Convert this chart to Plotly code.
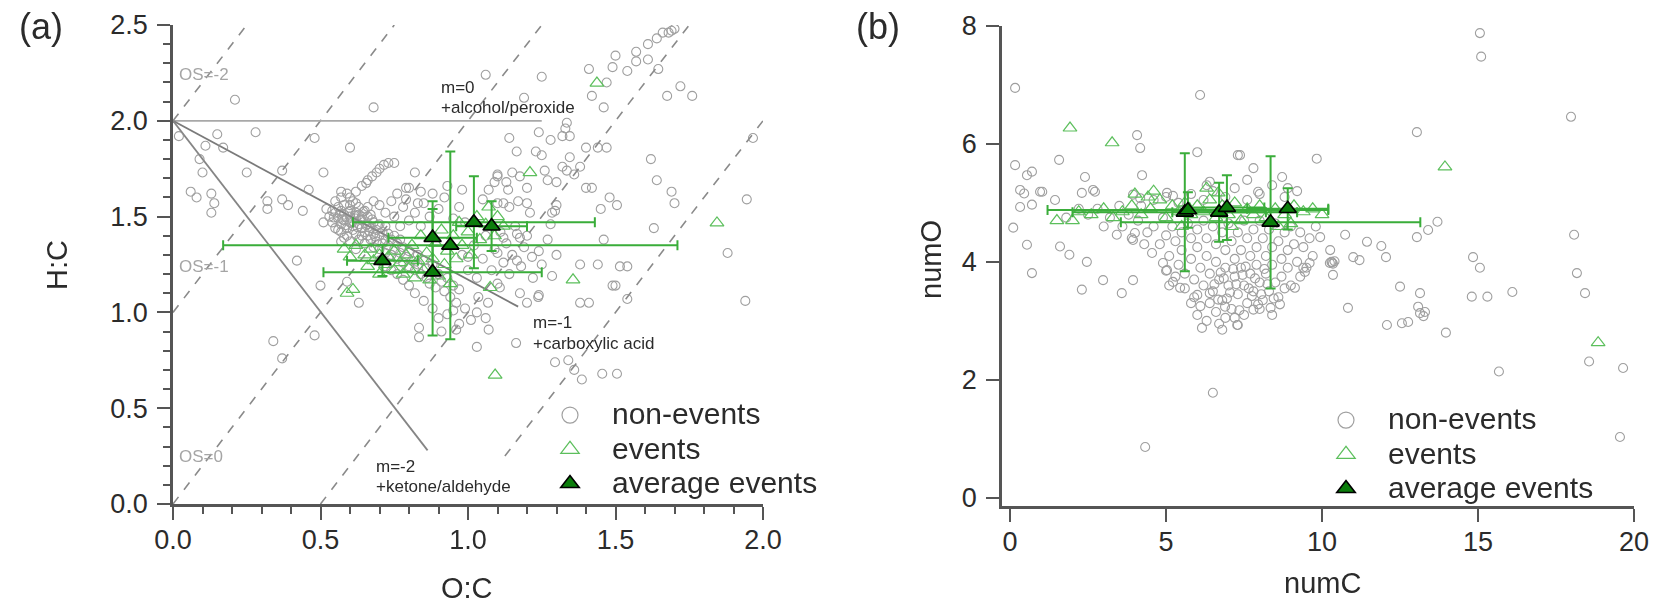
import plotly.graph_objects as go

FONT = "Liberation Sans, Arial, sans-serif"
W, H = 1655, 603

# ---------------- panel (a): Van Krevelen space ----------------
NONEV_A = [
    (0.21, 2.11), (0.68, 2.07), (0.15, 1.93), (0.28, 1.94), (0.11, 1.87), (0.17, 1.86), (0.09, 1.80),
    (0.60, 1.86), (0.48, 1.91), (0.25, 1.73), (0.10, 1.73), (0.37, 1.74), (0.51, 1.73), (0.06, 1.63),
    (0.08, 1.60), (0.13, 1.62), (0.13, 1.52), (0.14, 1.57), (0.32, 1.58), (0.32, 1.54), (0.37, 1.59),
    (0.39, 1.56), (0.44, 1.53), (0.46, 1.64), (0.82, 1.73), (0.79, 1.65), (0.42, 1.27), (0.50, 1.14),
    (0.59, 1.16), (0.63, 1.05), (0.34, 0.85), (0.37, 0.76), (0.48, 0.88), (0.02, 1.92), (0.75, 1.78),
    (0.60, 1.60), (0.57, 1.63),
    (0.62, 1.63), (0.64, 1.66), (0.655, 1.675), (0.66, 1.69), (0.675, 1.71), (0.69, 1.73), (0.70, 1.75),
    (0.715, 1.77), (0.73, 1.78),
    (1.06, 2.24), (1.25, 2.23), (1.41, 2.27), (1.50, 2.34), (1.49, 2.28), (1.57, 2.36), (1.57, 2.31),
    (1.54, 2.26), (1.61, 2.32), (1.61, 2.40), (1.64, 2.43), (1.66, 2.46), (1.68, 2.46), (1.69, 2.47),
    (1.70, 2.48), (1.645, 2.27), (1.675, 2.13), (1.72, 2.18), (1.76, 2.13), (1.47, 2.20), (1.42, 2.13),
    (1.46, 2.07), (1.19, 2.12), (1.335, 1.99), (1.33, 1.96), (1.345, 1.92), (1.32, 1.92), (1.24, 1.94),
    (1.28, 1.90), (1.23, 1.84), (1.25, 1.82), (1.14, 1.91), (1.165, 1.84), (1.40, 1.86), (1.44, 1.86),
    (1.47, 1.86), (1.345, 1.81), (1.38, 1.76), (1.30, 1.68), (1.335, 1.74), (1.36, 1.72), (1.26, 1.74),
    (1.27, 1.69), (1.20, 1.65), (1.15, 1.73), (1.10, 1.72), (1.09, 1.68), (1.40, 1.65), (1.42, 1.65),
    (1.48, 1.60), (1.505, 1.56), (1.45, 1.54), (1.295, 1.53), (1.62, 1.80), (1.64, 1.69), (1.69, 1.63),
    (1.70, 1.57), (1.945, 1.59), (1.966, 1.91), (1.63, 1.44), (1.88, 1.31), (1.94, 1.06), (1.46, 1.38),
    (1.38, 1.25), (1.44, 1.25), (1.515, 1.24), (1.54, 1.24), (1.49, 1.14), (1.38, 1.05), (1.41, 1.05),
    (1.24, 1.09), (1.54, 1.07),
    (1.176, 1.71), (1.32, 1.76), (1.136, 1.64), (1.10, 1.57), (1.17, 1.58), (1.20, 1.57), (1.14, 1.55),
    (1.21, 1.52), (1.285, 1.52), (1.30, 1.56), (1.166, 1.41), (1.176, 1.39), (1.12, 1.39), (1.10, 1.31),
    (1.166, 1.27), (1.00, 1.29), (1.217, 1.29), (1.285, 1.19), (1.238, 1.08), (1.176, 1.10), (1.108, 1.13),
    (1.068, 1.05), (1.035, 1.08), (1.20, 1.05), (1.50, 1.14),
    (0.834, 0.92), (0.834, 0.87), (1.03, 0.82), (1.07, 0.91), (1.163, 0.84), (1.295, 0.74), (1.34, 0.75),
    (1.386, 0.65), (1.455, 0.68), (1.505, 0.68), (1.36, 0.70),
    (0.98, 1.64), (1.10, 1.71), (1.13, 1.68), (1.05, 1.59), (1.07, 1.64), (1.12, 1.57), (0.80, 1.65),
    (0.84, 1.63), (0.79, 1.59), (0.83, 1.57),
    # dense region
    (0.53, 1.50), (0.54, 1.47), (0.55, 1.52), (0.55, 1.44), (0.56, 1.49), (0.56, 1.55), (0.57, 1.46),
    (0.57, 1.42), (0.58, 1.51), (0.58, 1.48), (0.58, 1.56), (0.59, 1.44), (0.59, 1.40), (0.60, 1.53),
    (0.60, 1.47), (0.60, 1.50), (0.61, 1.43), (0.61, 1.58), (0.61, 1.45), (0.62, 1.49), (0.62, 1.52),
    (0.62, 1.41), (0.63, 1.46), (0.63, 1.55), (0.63, 1.38), (0.64, 1.44), (0.64, 1.50), (0.64, 1.48),
    (0.65, 1.42), (0.65, 1.53), (0.65, 1.36), (0.66, 1.46), (0.66, 1.40), (0.66, 1.50), (0.67, 1.44),
    (0.67, 1.38), (0.68, 1.47), (0.68, 1.41), (0.68, 1.34), (0.69, 1.43), (0.69, 1.37), (0.70, 1.40),
    (0.70, 1.33), (0.71, 1.36), (0.71, 1.42), (0.72, 1.31), (0.72, 1.38), (0.73, 1.35), (0.74, 1.30),
    (0.74, 1.38), (0.75, 1.33), (0.76, 1.28), (0.76, 1.36), (0.77, 1.31), (0.78, 1.26), (0.78, 1.34),
    (0.79, 1.29), (0.80, 1.24), (0.80, 1.32), (0.81, 1.27), (0.82, 1.22), (0.83, 1.30), (0.83, 1.25),
    (0.84, 1.20), (0.85, 1.27), (0.86, 1.18), (0.86, 1.23), (0.87, 1.15), (0.88, 1.25), (0.89, 1.13),
    (0.90, 1.20), (0.91, 1.16), (0.92, 1.11), (0.93, 1.18), (0.94, 1.08), (0.95, 1.14), (0.96, 1.05),
    (0.97, 1.12), (0.57, 1.60), (0.59, 1.62), (0.55, 1.58), (0.52, 1.54), (0.51, 1.47), (0.60, 1.37),
    (0.57, 1.37), (0.62, 1.33),
    (0.545, 1.495), (0.565, 1.515), (0.575, 1.485), (0.585, 1.455), (0.595, 1.525), (0.605, 1.465),
    (0.615, 1.505), (0.625, 1.445), (0.635, 1.485), (0.645, 1.525), (0.655, 1.455), (0.665, 1.425),
    (0.675, 1.485), (0.685, 1.395), (0.695, 1.455), (0.56, 1.43), (0.58, 1.39), (0.60, 1.56),
    (0.62, 1.57), (0.64, 1.40), (0.66, 1.55), (0.54, 1.53), (0.57, 1.53), (0.63, 1.51), (0.67, 1.51),
    (0.70, 1.46), (0.72, 1.45), (0.73, 1.41), (0.75, 1.40), (0.77, 1.38),
    (0.72, 1.52), (0.75, 1.50), (0.78, 1.55), (0.80, 1.48), (0.82, 1.52), (0.85, 1.57), (0.87, 1.50),
    (0.90, 1.54), (0.92, 1.60), (0.95, 1.49), (0.97, 1.55), (0.99, 1.47), (0.74, 1.58), (0.77, 1.45),
    (0.84, 1.45), (0.70, 1.56), (0.68, 1.58), (0.76, 1.62), (0.88, 1.62), (0.93, 1.66),
    (0.98, 1.30), (1.00, 1.22), (1.02, 1.35), (1.03, 1.18), (1.05, 1.28), (1.06, 1.40), (1.08, 1.22),
    (1.09, 1.33), (1.10, 1.15), (1.11, 1.42), (1.12, 1.26), (1.13, 1.36), (1.14, 1.20), (1.15, 1.30),
    (1.16, 1.45), (1.18, 1.24), (1.19, 1.34), (1.20, 1.40), (1.22, 1.18), (1.24, 1.32), (1.25, 1.25),
    (1.27, 1.38), (1.28, 1.46), (1.30, 1.30), (0.99, 1.02), (1.01, 0.96), (1.03, 1.00), (0.97, 0.94),
    (0.93, 0.99), (0.90, 0.97), (0.88, 1.02), (0.95, 1.01), (1.06, 0.97), (0.91, 0.90), (0.96, 0.91),
    (0.85, 1.06), (0.82, 1.10), (0.80, 1.14), (0.78, 1.17), (0.76, 1.20), (0.74, 1.22), (0.72, 1.24),
    (0.70, 1.27),
]

EVENTS_A = [
    (1.437, 2.197), (1.21, 1.73), (1.844, 1.467), (1.356, 1.17), (1.092, 0.673), (0.59, 1.10),
    (0.61, 1.12), (1.075, 1.13),
    (0.62, 1.35), (0.65, 1.30), (0.67, 1.33), (0.68, 1.27), (0.70, 1.30), (0.72, 1.25), (0.73, 1.29),
    (0.75, 1.22), (0.75, 1.32), (0.77, 1.26), (0.78, 1.20), (0.79, 1.30), (0.80, 1.23), (0.81, 1.35),
    (0.82, 1.18), (0.83, 1.27), (0.84, 1.40), (0.85, 1.22), (0.86, 1.31), (0.87, 1.17), (0.88, 1.28),
    (0.89, 1.36), (0.90, 1.19), (0.91, 1.43), (0.92, 1.25), (0.93, 1.32), (0.94, 1.15), (0.95, 1.40),
    (0.96, 1.28), (0.97, 1.47), (0.98, 1.35), (1.00, 1.42), (1.01, 1.30), (1.03, 1.50), (1.04, 1.38),
    (1.06, 1.46), (1.07, 1.55), (1.09, 1.40), (1.10, 1.50), (1.12, 1.45), (0.70, 1.20), (0.66, 1.24),
    (0.60, 1.29), (0.58, 1.33),
]

AVG_A_OC = [0.71, 0.88, 0.88, 0.94, 1.02, 1.08]
AVG_A_HC = [1.27, 1.21, 1.39, 1.35, 1.47, 1.45]
AVG_A_OC_ERR = [0.12, 0.37, 0.15, 0.77, 0.41, 0.12]
AVG_A_HC_ERR = [0.08, 0.33, 0.19, 0.49, 0.24, 0.13]

# oxidation-state isolines H:C = 2*O:C - OS, drawn between the given O:C limits
OS_LEVELS = [-2, -1, 0, 1, 2]
OS_OC_START = [0.0, 0.0, 0.0, 0.5, 1.125]
OS_OC_END = [0.25, 0.75, 1.25, 1.75, 2.0]
OS_LABELS = ["OS=-2", "OS=-1", "OS=0"]
OS_LABEL_HC = [2.24, 1.24, 0.25]

# functionalisation lines starting from (0, 2)
VK_END_OC = [1.25, 1.17, 0.863]
VK_END_HC = [2.0, 1.03, 0.28]
VK_COLORS = ["#a8a8a8", "#7a7a7a", "#858585"]
VK_TEXT = [("m=0", "+alcohol/peroxide"), ("m=-1", "+carboxylic acid"), ("m=-2", "+ketone/aldehyde")]
VK_TEXT_OC = [0.90, 1.215, 0.68]
VK_TEXT_HC = [2.175, 0.945, 0.195]

# ---------------- panel (b): carbon / oxygen numbers ----------------
NONEV_B = [
    (0.16, 6.95), (6.09, 6.83), (0.16, 5.64), (1.57, 5.73), (4.07, 6.15), (4.17, 5.93), (2.40, 5.44),
    (4.23, 5.47), (6.0, 5.86), (7.3, 5.81), (0.54, 5.47), (0.7, 5.53), (0.32, 5.22), (0.45, 5.16),
    (0.96, 5.19), (1.44, 5.05), (2.3, 5.17), (2.66, 5.22), (0.32, 4.93), (0.7, 4.97), (0.1, 4.58),
    (0.54, 4.29), (1.6, 4.26), (1.9, 4.12), (2.46, 4.0), (0.7, 3.81), (2.3, 3.53), (2.98, 3.69),
    (3.58, 3.47), (3.94, 3.69), (3.42, 4.46), (4.0, 4.49), (4.55, 4.15), (3.94, 5.14), (4.17, 5.08),
    (5.03, 5.17), (5.22, 5.12), (5.03, 3.86), (5.22, 3.66), (5.45, 3.56), (6.0, 3.44), (6.4, 3.47),
    (6.67, 3.36), (6.89, 3.24), (6.15, 2.88), (6.8, 2.85), (7.28, 2.93), (6.5, 1.78), (4.33, 0.86),
    (3.94, 4.37), (7.37, 5.81), (7.8, 5.59), (7.6, 5.39), (7.95, 5.19), (6.4, 5.36), (6.3, 5.3),
    (2.72, 5.19), (1.03, 5.19), (8.72, 5.44), (8.9, 5.25), (9.83, 5.75),
    (15.06, 7.88), (15.1, 7.48), (17.98, 6.46), (13.04, 6.2), (13.7, 4.68), (13.4, 4.54), (13.04, 4.42),
    (18.08, 4.46), (10.74, 4.46), (11.44, 4.34), (11.9, 4.27), (12.05, 4.08), (11.0, 4.08), (11.2, 4.03),
    (10.26, 4.2), (9.94, 4.42), (14.84, 4.08), (15.06, 3.9), (14.8, 3.41), (15.3, 3.41), (16.1, 3.49),
    (18.17, 3.81), (18.43, 3.47), (12.5, 3.58), (13.14, 3.47), (10.83, 3.22), (13.08, 3.24), (13.3, 3.15),
    (9.13, 3.56), (9.45, 3.83), (12.08, 2.93), (12.56, 2.96), (12.76, 2.98), (13.14, 3.13), (13.25, 3.08),
    (13.97, 2.8), (15.67, 2.14), (18.56, 2.31), (19.65, 2.2), (19.55, 1.03), (7.8, 3.19), (7.3, 2.93),
    (9.6, 3.98), (9.4, 3.9), (10.35, 3.78),
    (10.25, 3.98), (10.3, 4.0), (10.35, 3.97), (10.4, 4.01), (10.32, 3.99),
    (4.6, 4.6), (4.8, 4.3), (4.9, 4.75), (5.0, 4.45), (5.1, 4.1), (5.2, 4.6), (5.3, 4.35), (5.4, 3.95),
    (5.5, 4.5), (5.5, 4.2), (5.6, 3.8), (5.7, 4.65), (5.8, 4.4), (5.8, 4.05), (5.9, 3.7), (6.0, 4.55),
    (6.0, 4.25), (6.1, 3.9), (6.2, 4.7), (6.2, 3.6), (6.3, 4.4), (6.3, 4.1), (6.4, 3.8), (6.5, 4.6),
    (6.5, 3.5), (6.6, 4.3), (6.6, 4.0), (6.7, 3.7), (6.8, 4.5), (6.8, 3.35), (6.9, 4.2), (6.9, 3.9),
    (7.0, 3.6), (7.0, 4.65), (7.1, 4.35), (7.1, 3.2), (7.2, 4.05), (7.2, 3.75), (7.3, 4.5), (7.3, 3.45),
    (7.4, 4.2), (7.4, 3.9), (7.5, 3.6), (7.5, 4.7), (7.6, 4.4), (7.6, 3.3), (7.7, 4.1), (7.7, 3.8),
    (7.8, 4.55), (7.8, 3.5), (7.9, 4.25), (7.9, 3.95), (8.0, 3.65), (8.0, 4.7), (8.1, 4.4), (8.1, 3.35),
    (8.2, 4.1), (8.2, 3.8), (8.3, 4.55), (8.3, 3.5), (8.4, 4.25), (8.4, 3.95), (8.5, 3.65), (8.5, 4.65),
    (8.6, 4.35), (8.6, 3.4), (8.7, 4.05), (8.7, 3.75), (8.8, 4.5), (8.8, 3.55), (8.9, 4.2), (8.9, 3.9),
    (9.0, 4.6), (9.0, 3.6), (9.1, 4.3), (9.2, 4.0), (9.3, 4.5), (9.3, 3.75), (9.4, 4.25), (9.5, 3.9),
    (9.6, 4.4), (9.7, 4.1), (9.8, 4.6), (6.4, 3.3), (6.6, 3.15), (7.2, 3.05), (5.9, 3.4), (6.1, 3.25),
    (7.5, 3.1), (8.0, 3.2), (8.4, 3.1), (5.3, 3.75), (5.1, 3.6), (5.0, 3.85), (4.9, 3.98), (5.6, 3.55),
    (5.8, 3.3), (6.0, 3.1), (6.3, 3.0), (6.7, 2.95), (6.9, 3.05),
    (7.25, 3.62), (7.45, 3.78), (7.65, 3.55), (7.85, 3.72), (8.05, 3.45), (8.25, 3.62), (8.45, 3.38),
    (7.55, 3.92), (7.75, 3.42), (8.15, 3.88), (6.85, 3.72), (7.05, 3.48), (8.65, 3.28), (8.35, 3.22),
    (7.95, 3.28), (7.35, 3.18), (6.95, 3.38), (6.55, 3.62), (6.75, 3.82), (7.15, 3.88),
    (4.2, 4.95), (4.6, 5.05), (5.0, 5.1), (5.4, 5.0), (5.8, 5.15), (6.2, 5.05), (6.5, 5.2), (6.9, 5.1),
    (7.2, 5.25), (7.6, 5.05), (8.0, 5.15), (8.4, 5.3), (8.8, 5.1), (9.2, 5.2), (3.5, 4.95), (3.8, 4.8),
    (4.1, 4.7), (4.4, 4.5), (3.2, 4.75), (2.8, 4.9), (2.5, 4.8), (3.0, 4.6), (2.2, 4.9), (1.8, 4.75),
    (3.6, 4.6), (4.3, 4.3), (3.9, 4.4),
]

EVENTS_B = [
    (1.92, 6.27), (3.27, 6.02), (13.94, 5.61), (18.85, 2.63), (4.42, 5.10), (6.67, 5.17),
    (2.2, 4.85), (2.6, 4.8), (3.0, 4.9), (3.3, 4.75), (3.6, 4.85), (3.9, 4.95), (4.2, 4.8), (4.5, 4.9),
    (4.8, 5.05), (5.0, 4.75), (5.2, 4.95), (5.4, 4.85), (5.6, 5.0), (5.8, 4.8), (6.0, 4.95), (6.2, 4.85),
    (6.4, 5.05), (6.6, 4.75), (6.8, 4.95), (7.0, 4.8), (7.2, 5.0), (7.4, 4.7), (7.6, 4.9), (7.8, 4.8),
    (8.0, 4.95), (8.2, 4.75), (8.5, 4.9), (8.8, 4.8), (9.1, 4.95), (9.4, 4.85), (9.7, 4.9), (10.0, 4.8),
    (4.6, 5.2), (6.3, 5.25), (1.5, 4.7), (2.0, 4.7), (4.0, 5.15), (7.1, 4.6), (8.6, 4.6), (5.5, 4.6),
    (9.0, 4.65),
]

AVG_B_C = [5.6, 5.7, 6.7, 6.95, 8.35, 8.9]
AVG_B_O = [4.84, 4.88, 4.84, 4.92, 4.67, 4.9]
AVG_B_C_ERR = [3.6, 4.5, 1.5, 1.2, 4.8, 1.3]
AVG_B_O_ERR = [1.0, 0.3, 0.5, 0.55, 1.12, 0.35]

GREY = "#8e8e8e"
EV_GREEN = "#5cbf5c"
BAR_GREEN = "#3aad3a"
AVG_FILL = "#0b7d0b"
AXIS_COL = "#555555"
TEXT_COL = "#2b2b2b"


def unzip(pairs):
    return [p[0] for p in pairs], [p[1] for p in pairs]


fig = go.Figure()

# reference lines in panel (a)
for os_val, x0, x1 in zip(OS_LEVELS, OS_OC_START, OS_OC_END):
    fig.add_trace(go.Scatter(
        x=[x0, x1], y=[2 * x0 - os_val, 2 * x1 - os_val], mode="lines",
        line=dict(color="#8a8a8a", width=1.6, dash="dash"),
        hoverinfo="skip", showlegend=False, xaxis="x", yaxis="y"))
for xe, ye, col in zip(VK_END_OC, VK_END_HC, VK_COLORS):
    fig.add_trace(go.Scatter(
        x=[0, xe], y=[2.0, ye], mode="lines", line=dict(color=col, width=1.8),
        hoverinfo="skip", showlegend=False, xaxis="x", yaxis="y"))


def add_panel(nonev, events, ax, ay, ex, ey, xa, ya):
    nx, ny = unzip(nonev)
    fig.add_trace(go.Scatter(
        x=nx, y=ny, mode="markers", showlegend=False, xaxis=xa, yaxis=ya,
        marker=dict(symbol="circle-open", size=9, color=GREY, line=dict(width=1.1)),
        opacity=0.85))
    vx, vy = unzip(events)
    fig.add_trace(go.Scatter(
        x=vx, y=vy, mode="markers", showlegend=False, xaxis=xa, yaxis=ya,
        marker=dict(symbol="triangle-up-open", size=12, color=EV_GREEN, line=dict(width=1.2))))
    fig.add_trace(go.Scatter(
        x=ax, y=ay, mode="markers", showlegend=False, xaxis=xa, yaxis=ya,
        error_x=dict(type="data", array=ex, color=BAR_GREEN, thickness=2, width=5),
        error_y=dict(type="data", array=ey, color=BAR_GREEN, thickness=2, width=5),
        marker=dict(symbol="triangle-up", size=15, color=AVG_FILL, line=dict(color="#000000", width=1.6))))


add_panel(NONEV_A, EVENTS_A, AVG_A_OC, AVG_A_HC, AVG_A_OC_ERR, AVG_A_HC_ERR, "x", "y")
add_panel(NONEV_B, EVENTS_B, AVG_B_C, AVG_B_O, AVG_B_C_ERR, AVG_B_O_ERR, "x2", "y2")

# legend entries (one legend per panel)
LEGEND_NAMES = ["non-events", "events", "average events"]
for lg in ["legend", "legend2"]:
    specs = [
        dict(symbol="circle-open", color="#a0a0a0", line=dict(width=1.2)),
        dict(symbol="triangle-up-open", color=EV_GREEN, line=dict(width=1.2)),
        dict(symbol="triangle-up", color=AVG_FILL, line=dict(color="#000000", width=1.6)),
    ]
    for name, mk in zip(LEGEND_NAMES, specs):
        fig.add_trace(go.Scatter(
            x=[None], y=[None], mode="markers", legend=lg,
            name=f'<span style="font-size:30px">{name}</span>', marker=dict(size=16, **mk),
            xaxis="x" if lg == "legend" else "x2", yaxis="y" if lg == "legend" else "y2"))

# ---------------- annotations ----------------
ann = []
for txt, hc in zip(OS_LABELS, OS_LABEL_HC):
    ann.append(dict(x=0.012, y=hc, xref="x", yref="y", text=txt, showarrow=False,
                    xanchor="left", yanchor="middle", font=dict(size=17, color="#a5a5a5", family=FONT)))
for (l1, l2), xo, yo in zip(VK_TEXT, VK_TEXT_OC, VK_TEXT_HC):
    ann.append(dict(x=xo, y=yo, xref="x", yref="y", text=l1, showarrow=False,
                    xanchor="left", yanchor="middle", font=dict(size=17, color=TEXT_COL, family=FONT)))
    ann.append(dict(x=xo, y=yo - 0.105, xref="x", yref="y", text=l2, showarrow=False,
                    xanchor="left", yanchor="middle", font=dict(size=17, color=TEXT_COL, family=FONT)))


def px_ann(text, px, py, size, angle=0):
    return dict(x=px / W, y=1 - py / H, xref="paper", yref="paper", text=text, showarrow=False,
                xanchor="center", yanchor="middle", textangle=angle,
                font=dict(size=size, color=TEXT_COL, family=FONT))


ann += [
    px_ann("(a)", 41, 26, 36),
    px_ann("(b)", 878, 26, 36),
    px_ann("H:C", 57, 265, 29, -90),
    px_ann("O:C", 467, 588, 29),
    px_ann("numO", 931, 260, 29, -90),
    px_ann("numC", 1322, 583, 29),
]

axis_common = dict(
    showline=True, linecolor=AXIS_COL, linewidth=2.5, ticks="outside", ticklen=13, tickwidth=2,
    tickcolor=AXIS_COL, showgrid=False, zeroline=False,
    tickfont=dict(size=27, color=TEXT_COL, family=FONT),
)
minor = dict(ticks="outside", ticklen=7, tickwidth=2, tickcolor=AXIS_COL, dtick=0.1, tick0=0, showgrid=False)

legend_common = dict(
    xanchor="left", yanchor="top", bgcolor="rgba(0,0,0,0)", itemwidth=74, tracegroupgap=0,
    font=dict(size=24, color=TEXT_COL, family=FONT), itemclick=False, itemdoubleclick=False,
)

fig.update_layout(
    width=W, height=H, autosize=False, margin=dict(l=0, r=0, t=0, b=0, autoexpand=False),
    paper_bgcolor="white", plot_bgcolor="white", font=dict(family=FONT, color=TEXT_COL),
    xaxis=dict(domain=[173 / W, 763 / W], range=[0, 2.0], tick0=0, dtick=0.5, tickformat=".1f",
               anchor="y", minor=minor, ticklabelstandoff=-3, **axis_common),
    yaxis=dict(domain=[1 - 504 / H, 1 - 25 / H], range=[0, 2.5], tick0=0, dtick=0.5, tickformat=".1f",
               anchor="x", minor=minor, ticklabelstandoff=4, **axis_common),
    xaxis2=dict(domain=[1002 / W, 1634 / W], range=[-0.26, 20], tickvals=[0, 5, 10, 15, 20],
                anchor="y2", ticklabelstandoff=-3, **axis_common),
    yaxis2=dict(domain=[1 - 506 / H, 1 - 26 / H], range=[-0.14, 8], tickvals=[0, 2, 4, 6, 8],
                anchor="x2", ticklabelstandoff=4, **axis_common),
    legend=dict(x=528 / W, y=1 - 393 / H, **legend_common),
    legend2=dict(x=1304 / W, y=1 - 398 / H, **legend_common),
    annotations=ann,
)

fig.write_html("out.html")
